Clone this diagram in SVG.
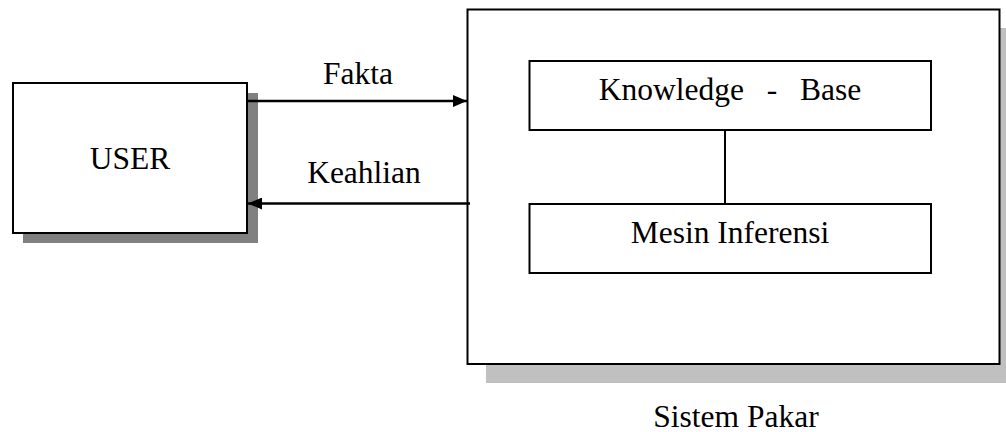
<svg xmlns="http://www.w3.org/2000/svg" width="1006" height="432" viewBox="0 0 1006 432">
<style>
.box{fill:#fff;stroke:#000;stroke-width:2}
.t{font-family:"Liberation Serif","Times New Roman",serif;font-size:31.5px;fill:#000;text-anchor:middle}
.ln{stroke:#000;stroke-width:2.5;fill:none}
</style>
<defs>
<marker id="ah" markerWidth="14" markerHeight="12" refX="14" refY="6" orient="auto" markerUnits="userSpaceOnUse">
<path d="M0,0 L14,6 L0,12 Z" fill="#000"/>
</marker>
</defs>
<rect width="1006" height="432" fill="#fff"/>
<g id="user">
<rect x="23" y="93" width="235" height="150" fill="#808080"/>
<rect class="box" x="13" y="83" width="234" height="150"/>
<text class="t" x="130" y="169">USER</text>
</g>
<g id="sistem-pakar">
<rect x="486" y="28" width="532" height="355" fill="#c0c0c0"/>
<rect class="box" x="467.5" y="9.5" width="532" height="354.5"/>
<text class="t" x="736" y="427">Sistem Pakar</text>
</g>
<g id="knowledge-base">
<rect class="box" x="529.5" y="61" width="401.5" height="69"/>
<text class="t" x="730" y="100" style="word-spacing:15px">Knowledge - Base</text>
</g>
<g id="mesin-inferensi">
<rect class="box" x="529.5" y="204" width="401.5" height="69"/>
<text class="t" x="730" y="243">Mesin Inferensi</text>
</g>
<g id="connectors">
<line class="ln" x1="247" y1="101" x2="467" y2="101" marker-end="url(#ah)"/>
<text class="t" x="358" y="84">Fakta</text>
<line class="ln" x1="470" y1="203.5" x2="248" y2="203.5" marker-end="url(#ah)"/>
<text class="t" x="364" y="183">Keahlian</text>
<line x1="725" y1="130" x2="725" y2="204" stroke="#000" stroke-width="2"/>
</g>
</svg>
